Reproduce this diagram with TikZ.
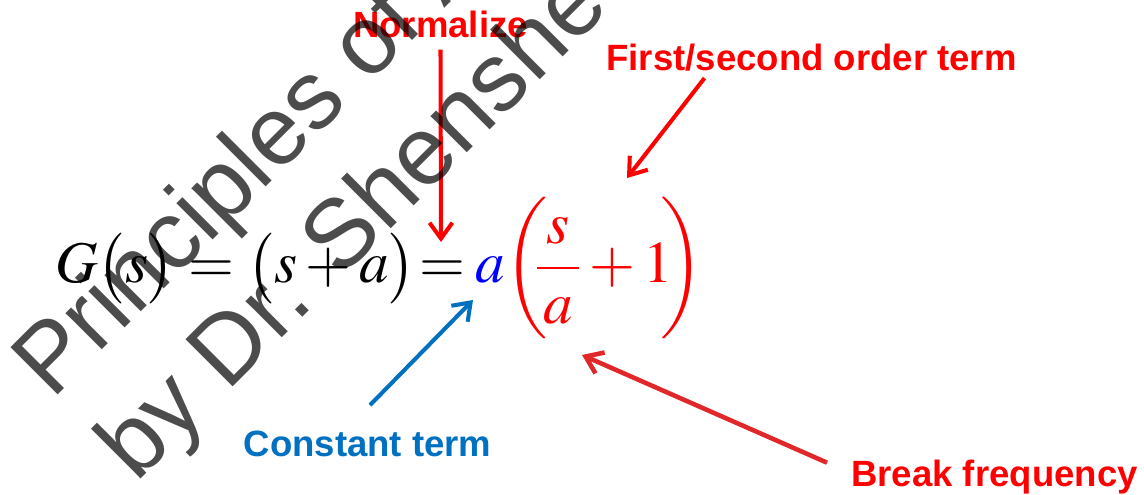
\documentclass[tikz,border=0pt]{standalone}
\usepackage{amsmath}
\usepackage{mathptmx}
\usepackage[no-math]{fontspec}
\newfontfamily\arialfont{Liberation Sans}
\usetikzlibrary{arrows.meta}

\definecolor{lblred}{HTML}{FF0000}
\definecolor{lblblue}{HTML}{0070C0}
\definecolor{arrred}{HTML}{E0282A}

\begin{document}
\begin{tikzpicture}[
    every node/.style={inner sep=0pt},
    lbl/.style={font=\arialfont\bfseries\fontsize{20.8}{25}\selectfont, anchor=base},
    eq/.style={font=\fontsize{33.6}{40}\selectfont, anchor=base west},
    wmark/.style={font=\arialfont\fontsize{55.2}{66}\selectfont, text=black,
      text opacity=0.7, rotate=45, anchor=base west},
    arr/.style={-{Straight Barb[length=9pt,width=13pt]}, line width=2.3pt}
  ]
  \useasboundingbox (0,0) rectangle (22.88,9.9);

  % ── Equation ────────────────────────────────────────────────────────────
  \node[eq] (lhs) at (1.10, 4.24) {$G\bigl(s\bigr)=\bigl(s+a\bigr)\mkern-3mu=$};
  \node[eq, text=blue] (gain) at (9.50, 4.24) {$a$};
  \node[eq, text=lblred] (term) at (10.08, 4.24)
    {$\biggl(\mkern-4mu\dfrac{\mkern2mu s\mkern2mu}{\mkern2mu a\mkern2mu}+1\mkern-4mu\biggr)$};

  % ── Labels ──────────────────────────────────────────────────────────────
  \node[lbl, text=lblred] (norm) at (8.81, 9.14) {Normalize};
  \node[lbl, text=lblred] (order) at (16.23, 8.48) {First/second order term};
  \node[lbl, text=lblblue] (const) at (7.35, 0.76) {Constant term};
  \node[lbl, text=lblred] (brk) at (19.89, 0.16) {Break frequency};

  % arrow tips on the equation
  \coordinate (normtip) at (8.82, 5.06);
  \coordinate (ordertip) at (12.54, 6.34);
  \coordinate (gaintip) at (9.46, 3.90);
  \coordinate (brktip) at (11.64, 2.80);

  \draw[arr, lblred] ([yshift=-0.22cm]norm.south) -- (normtip);
  \draw[arr, lblred] ([xshift=-2.14cm, yshift=-0.12cm]order.south) -- (ordertip);
  \draw[arr, lblblue] ([xshift=0.05cm, yshift=0.52cm]const.north) -- (gaintip);
  \draw[arr, arrred, line width=2.6pt] ([xshift=-3.35cm, yshift=-0.05cm]brk.north) -- (brktip);

  % ── Watermark ───────────────────────────────────────────────────────────
  \begin{scope}
    \clip (0,0) rectangle (22.88,9.9);
    \node[wmark] (wm1) at (1.04, 1.88) {Principles of A};
    \node[wmark] (wm2) at (2.72, 0.22) {by Dr. Shenshe};
  \end{scope}
\end{tikzpicture}
\end{document}
